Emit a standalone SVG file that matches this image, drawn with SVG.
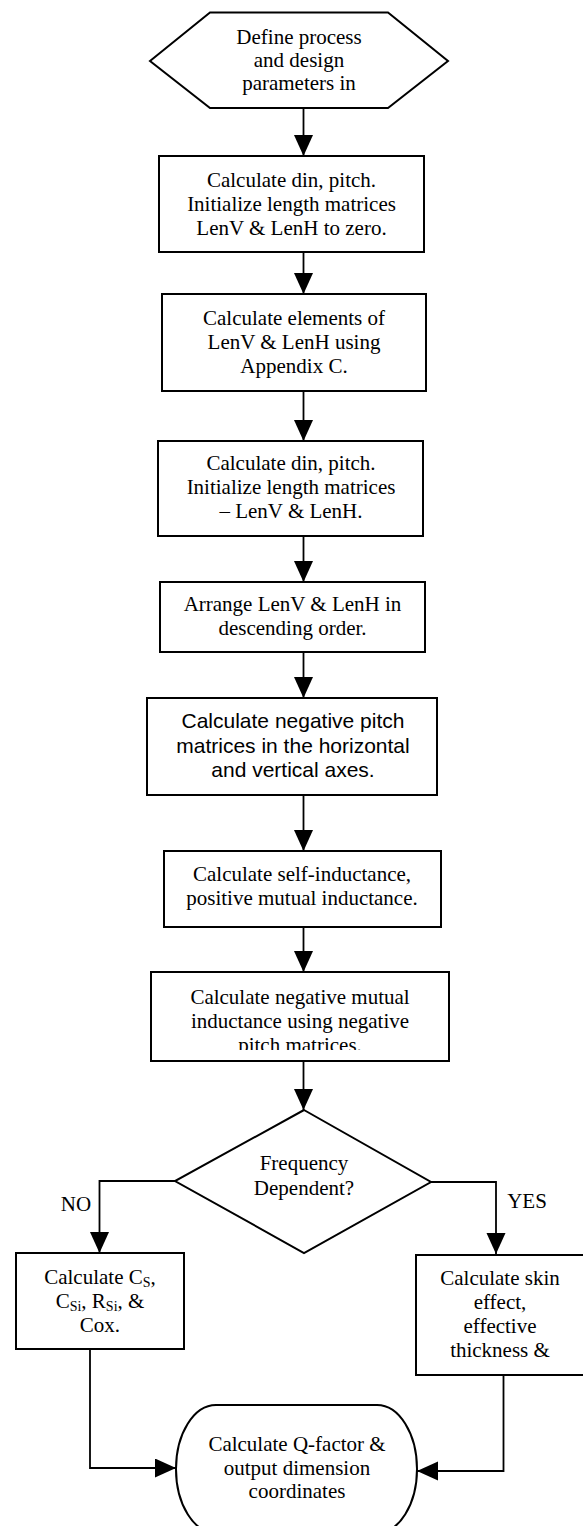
<svg xmlns="http://www.w3.org/2000/svg" width="583" height="1526" viewBox="0 0 583 1526">
<style>
.shape{fill:#fff;stroke:#000;stroke-width:2}
.conn{fill:none;stroke:#000;stroke-width:1.8}
.t{font-family:"Liberation Serif","Times New Roman",serif;font-size:21px;fill:#000;text-anchor:middle}
.s{font-family:"Liberation Sans",Arial,sans-serif;font-size:21px;fill:#000;text-anchor:middle}
.sub{font-size:14px}
</style>
<defs>
<marker id="arr" markerUnits="userSpaceOnUse" markerWidth="22" markerHeight="20" refX="21" refY="9.5" orient="auto">
<path d="M0,0 L21,9.5 L0,19 Z" fill="#000"/>
</marker>
<clipPath id="clip7"><rect x="151" y="972" width="298" height="78"/></clipPath>
</defs>
<rect width="583" height="1526" fill="#fff"/>
<g id="connectors">
<line class="conn" x1="303.5" y1="108" x2="303.5" y2="156" marker-end="url(#arr)"/>
<line class="conn" x1="303.5" y1="252" x2="303.5" y2="294" marker-end="url(#arr)"/>
<line class="conn" x1="303.5" y1="391" x2="303.5" y2="441" marker-end="url(#arr)"/>
<line class="conn" x1="303.5" y1="536" x2="303.5" y2="582" marker-end="url(#arr)"/>
<line class="conn" x1="303.5" y1="652" x2="303.5" y2="698" marker-end="url(#arr)"/>
<line class="conn" x1="303.5" y1="795" x2="303.5" y2="851" marker-end="url(#arr)"/>
<line class="conn" x1="303.5" y1="927" x2="303.5" y2="972" marker-end="url(#arr)"/>
<line class="conn" x1="303.5" y1="1061" x2="303.5" y2="1110" marker-end="url(#arr)"/>
<polyline class="conn" points="175,1181 99.5,1181 99.5,1253" marker-end="url(#arr)"/>
<polyline class="conn" points="431,1182 496,1182 496,1254" marker-end="url(#arr)"/>
<polyline class="conn" points="90,1349 90,1468 176,1468" marker-end="url(#arr)"/>
<polyline class="conn" points="503.5,1375 503.5,1471 417,1471" marker-end="url(#arr)"/>
<text class="t" x="76" y="1211">NO</text>
<text class="t" x="527" y="1208">YES</text>
</g>
<g id="n-start">
<polygon class="shape" points="150,61 210,12.5 388,12.5 448,61 388,108 210,108"/>
<text class="t" x="299" y="44">Define process</text>
<text class="t" x="299" y="67">and design</text>
<text class="t" x="299" y="90">parameters in</text>
</g>
<g id="n-box1">
<rect class="shape" x="159" y="156" width="265" height="96"/>
<text class="t" x="291.5" y="187">Calculate din, pitch.</text>
<text class="t" x="291.5" y="211">Initialize length matrices</text>
<text class="t" x="291.5" y="235">LenV &amp; LenH to zero.</text>
</g>
<g id="n-box2">
<rect class="shape" x="162" y="294" width="264" height="97"/>
<text class="t" x="294" y="325">Calculate elements of</text>
<text class="t" x="294" y="349">LenV &amp; LenH using</text>
<text class="t" x="294" y="373">Appendix C.</text>
</g>
<g id="n-box3">
<rect class="shape" x="158" y="441" width="265" height="95"/>
<text class="t" x="291" y="470">Calculate din, pitch.</text>
<text class="t" x="291" y="494">Initialize length matrices</text>
<text class="t" x="291" y="518">– LenV &amp; LenH.</text>
</g>
<g id="n-box4">
<rect class="shape" x="160" y="582" width="265" height="70"/>
<text class="t" x="292.5" y="611">Arrange LenV &amp; LenH in</text>
<text class="t" x="292.5" y="635">descending order.</text>
</g>
<g id="n-box5">
<rect class="shape" x="147" y="698" width="290" height="97"/>
<text class="s" x="293" y="728">Calculate negative pitch</text>
<text class="s" x="293" y="753">matrices in the horizontal</text>
<text class="s" x="293" y="777">and vertical axes.</text>
</g>
<g id="n-box6">
<rect class="shape" x="164" y="851" width="277" height="76"/>
<text class="t" x="302" y="881">Calculate self-inductance,</text>
<text class="t" x="302" y="905">positive mutual inductance.</text>
</g>
<g id="n-box7">
<rect class="shape" x="151" y="972" width="298" height="89"/>
<g clip-path="url(#clip7)">
<text class="t" x="300" y="1004">Calculate negative mutual</text>
<text class="t" x="300" y="1028">inductance using negative</text>
<text class="t" x="300" y="1052">pitch matrices.</text>
</g>
</g>
<g id="n-decision">
<polygon class="shape" points="304,1110 431,1182 304,1253 175,1181"/>
<text class="t" x="304" y="1170">Frequency</text>
<text class="t" x="304" y="1195">Dependent?</text>
</g>
<g id="n-left">
<rect class="shape" x="16" y="1253" width="168" height="96"/>
<text class="t" x="100" y="1284">Calculate C<tspan class="sub" dy="3">S</tspan><tspan dy="-3">,</tspan></text>
<text class="t" x="100" y="1308">C<tspan class="sub" dy="3">Si</tspan><tspan dy="-3">, R</tspan><tspan class="sub" dy="3">Si</tspan><tspan dy="-3">, &amp;</tspan></text>
<text class="t" x="100" y="1332">Cox.</text>
</g>
<g id="n-right">
<rect class="shape" x="416" y="1255" width="168" height="120"/>
<text class="t" x="500" y="1285">Calculate skin</text>
<text class="t" x="500" y="1309">effect,</text>
<text class="t" x="500" y="1333">effective</text>
<text class="t" x="500" y="1357">thickness &amp;</text>
</g>
<g id="n-end">
<rect class="shape" x="176" y="1405" width="241" height="128" rx="40" ry="64"/>
<text class="t" x="297" y="1451">Calculate Q-factor &amp;</text>
<text class="t" x="297" y="1475">output dimension</text>
<text class="t" x="297" y="1498">coordinates</text>
</g>
</svg>
